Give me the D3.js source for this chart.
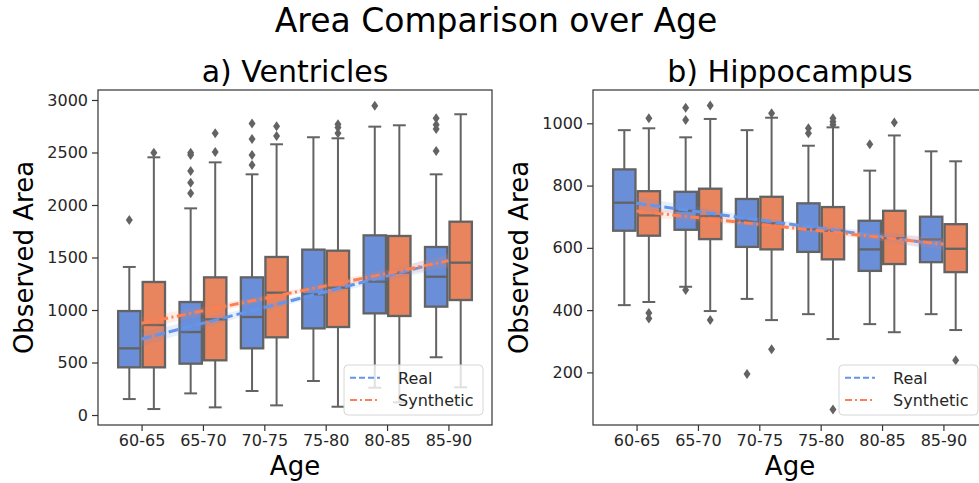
<!DOCTYPE html>
<html>
<head>
<meta charset="utf-8">
<script src="https://cdn.jsdelivr.net/npm/d3@7"></script>
<style>
  body { margin: 0; background: #fff; }
  svg { display: block; font-family: "DejaVu Sans", sans-serif; }
</style>
</head>
<body>
<div id="chart"></div>
<script>
// categories on the x axis
const ages = ["60-65", "65-70", "70-75", "75-80", "80-85", "85-90"];

// box stats per age group: [lower whisker, q1, median, q3, upper whisker]
const ventReal = [
  [152, 454, 635, 990, 1410],
  [206, 489, 790, 1076, 1968],
  [229, 635, 933, 1311, 2292],
  [324, 825, 1149, 1575, 2645],
  [260, 968, 1270, 1711, 2746],
  [550, 1032, 1317, 1600, 2292]
];
const ventRealOut = [[1857], [2111, 2212, 2324, 2476, 2498], [2381, 2476, 2629, 2775], [], [2946], [2514, 2724, 2765, 2825]];
const ventSynth = [
  [57, 454, 857, 1267, 2454],
  [73, 521, 911, 1311, 2406],
  [92, 740, 1165, 1505, 2578],
  [79, 838, 1213, 1565, 2635],
  [121, 943, 1356, 1705, 2759],
  [264, 1095, 1451, 1841, 2864]
];
const ventSynthOut = [[2498], [2505, 2683], [2657, 2749], [2683, 2737, 2768], [], []];

const hipReal = [
  [416, 655, 745, 852, 978],
  [475, 658, 719, 780, 955],
  [436, 603, 687, 757, 978],
  [387, 587, 660, 743, 928],
  [355, 526, 595, 687, 848],
  [387, 554, 627, 700, 910]
];
const hipRealOut = [[], [465, 1011, 1050], [195], [968, 984], [933], []];
const hipSynth = [
  [426, 639, 704, 782, 984],
  [397, 628, 702, 790, 1014],
  [368, 595, 679, 764, 1018],
  [307, 563, 655, 731, 987],
  [329, 548, 631, 719, 961],
  [336, 522, 597, 676, 878]
];
const hipSynthOut = [[373, 391, 1016], [368, 1057], [274, 1032], [81, 995, 1005, 1016], [1003], [239]];

// trend lines: value at first and last age group, plus band half width per group
const ventRealFit = [724, 1474];
const ventSynthFit = [873, 1468];
const hipRealFit = [743, 609];
const hipSynthFit = [718, 612];
const ventRealCi = [70, 45, 30, 30, 45, 70];
const ventSynthCi = [60, 40, 28, 28, 40, 60];
const hipRealCi = [22, 14, 9, 9, 14, 22];
const hipSynthCi = [18, 12, 8, 8, 12, 18];

const ventTicks = [0, 500, 1000, 1500, 2000, 2500, 3000];
const hipTicks = [200, 400, 600, 800, 1000];

const W = 979, H = 483;
const blueFill = "#6a8fd8", orangeFill = "#e8845e";
const blueLine = "#6495ed", orangeLine = "#ff7f50";
const gray = "#636363";

const svg = d3.select('#chart').append('svg')
  .attr('width', W)
  .attr('height', H);

svg.append('text')
  .attr('x', 496).attr('y', 32)
  .attr('text-anchor', 'middle')
  .attr('font-size', 33)
  .attr('fill', '#000')
  .text('Area Comparison over Age');

function panel(opt) {
  const left = opt.left, right = opt.left + 394, top = 90, bottom = 425;
  const x = d3.scaleLinear().domain([-0.71, 5.71]).range([left, right]);
  const y = d3.scaleLinear().domain(opt.yDomain).range([bottom, top]);
  const g = svg.append('g');
  const unit = x(1) - x(0);

  // boxes
  const groups = [
    { stats: opt.real, out: opt.realOut, fill: blueFill, off: -0.2 },
    { stats: opt.synth, out: opt.synthOut, fill: orangeFill, off: 0.2 }
  ];
  groups.forEach(grp => {
    grp.stats.forEach((s, i) => {
      const cx = x(i + grp.off);
      const hw = 0.2 * unit - 1.1;
      const cw = 0.105 * unit;
      const bg = g.append('g').attr('stroke', gray).attr('fill', 'none');
      bg.append('line').attr('x1', cx).attr('x2', cx).attr('y1', y(s[0])).attr('y2', y(s[1])).attr('stroke-width', 2);
      bg.append('line').attr('x1', cx).attr('x2', cx).attr('y1', y(s[3])).attr('y2', y(s[4])).attr('stroke-width', 2);
      bg.append('line').attr('x1', cx - cw).attr('x2', cx + cw).attr('y1', y(s[0])).attr('y2', y(s[0])).attr('stroke-width', 2);
      bg.append('line').attr('x1', cx - cw).attr('x2', cx + cw).attr('y1', y(s[4])).attr('y2', y(s[4])).attr('stroke-width', 2);
      bg.append('rect')
        .attr('x', cx - hw).attr('width', 2 * hw)
        .attr('y', y(s[3])).attr('height', y(s[1]) - y(s[3]))
        .attr('fill', grp.fill).attr('stroke-width', 2.3);
      bg.append('line').attr('x1', cx - hw).attr('x2', cx + hw).attr('y1', y(s[2])).attr('y2', y(s[2])).attr('stroke-width', 2.3);
      grp.out[i].forEach(v => {
        const py = y(v);
        g.append('path')
          .attr('d', `M${cx},${py - 5}L${cx + 3.5},${py}L${cx},${py + 5}L${cx - 3.5},${py}Z`)
          .attr('fill', gray);
      });
    });
  });

  // trend lines with bands
  const fits = [
    { fit: opt.realFit, ci: opt.realCi, color: blueLine, dash: '10,4' },
    { fit: opt.synthFit, ci: opt.synthCi, color: orangeLine, dash: '9,3.5,2,3.5' }
  ];
  fits.forEach(f => {
    const slope = (f.fit[1] - f.fit[0]) / (ages.length - 1);
    const pts = ages.map((a, i) => ({ i: i, v: f.fit[0] + slope * i, ci: f.ci[i] }));
    g.append('path')
      .datum(pts)
      .attr('d', d3.area().curve(d3.curveMonotoneX)
        .x(d => x(d.i)).y0(d => y(d.v - d.ci)).y1(d => y(d.v + d.ci)))
      .attr('fill', f.color).attr('fill-opacity', 0.15);
    g.append('line')
      .attr('x1', x(0)).attr('y1', y(f.fit[0]))
      .attr('x2', x(ages.length - 1)).attr('y2', y(f.fit[1]))
      .attr('stroke', f.color).attr('stroke-width', 3)
      .attr('stroke-dasharray', f.dash);
  });

  // frame
  g.append('rect')
    .attr('x', left).attr('y', top).attr('width', right - left).attr('height', bottom - top)
    .attr('fill', 'none').attr('stroke', '#333').attr('stroke-width', 1.2);

  const xAxis = g.append('g').attr('transform', `translate(0,${bottom})`)
    .call(d3.axisBottom(x).tickValues(d3.range(ages.length)).tickFormat(i => ages[i]).tickSize(6).tickPadding(4));
  const yAxis = g.append('g').attr('transform', `translate(${left},0)`)
    .call(d3.axisLeft(y).tickValues(opt.ticks).tickSize(6).tickPadding(4).tickFormat(d3.format('d')));
  [xAxis, yAxis].forEach(a => {
    a.select('.domain').remove();
    a.selectAll('line').attr('stroke', '#333').attr('stroke-width', 1.2);
    a.selectAll('text').attr('font-size', 16).attr('fill', '#262626').attr('font-family', 'DejaVu Sans');
  });

  // titles
  const mid = (left + right) / 2;
  g.append('text').attr('x', mid).attr('y', 82).attr('text-anchor', 'middle')
    .attr('font-size', 30).text(opt.title);
  g.append('text').attr('x', mid).attr('y', 475).attr('text-anchor', 'middle')
    .attr('font-size', 26).text('Age');
  g.append('text')
    .attr('transform', `translate(${left - 65},${(top + bottom) / 2}) rotate(-90)`)
    .attr('text-anchor', 'middle')
    .attr('font-size', 26).text('Observed Area');

  // legend
  const lx = right - 148, ly = bottom - 60;
  const lg = g.append('g').attr('transform', `translate(${lx},${ly})`);
  lg.append('rect').attr('width', 139).attr('height', 50).attr('rx', 4)
    .attr('fill', '#fff').attr('fill-opacity', 0.8).attr('stroke', '#d6d6d6');
  fits.forEach((f, k) => {
    const yy = 12.7 + k * 22.3;
    lg.append('line').attr('x1', 6).attr('x2', 36).attr('y1', yy).attr('y2', yy)
      .attr('stroke', f.color).attr('stroke-width', 2).attr('stroke-dasharray', k === 0 ? '6,3' : '7,3,2,3');
    lg.append('text').attr('x', 54).attr('y', yy + 6).attr('font-size', 16)
      .attr('fill', '#262626').text(k === 0 ? 'Real' : 'Synthetic');
  });
}

panel({
  left: 98, title: 'a) Ventricles', yDomain: [-95, 3095], ticks: ventTicks,
  real: ventReal, realOut: ventRealOut, synth: ventSynth, synthOut: ventSynthOut,
  realFit: ventRealFit, synthFit: ventSynthFit, realCi: ventRealCi, synthCi: ventSynthCi
});
panel({
  left: 593, title: 'b) Hippocampus', yDomain: [31, 1107], ticks: hipTicks,
  real: hipReal, realOut: hipRealOut, synth: hipSynth, synthOut: hipSynthOut,
  realFit: hipRealFit, synthFit: hipSynthFit, realCi: hipRealCi, synthCi: hipSynthCi
});
</script>
</body>
</html>
